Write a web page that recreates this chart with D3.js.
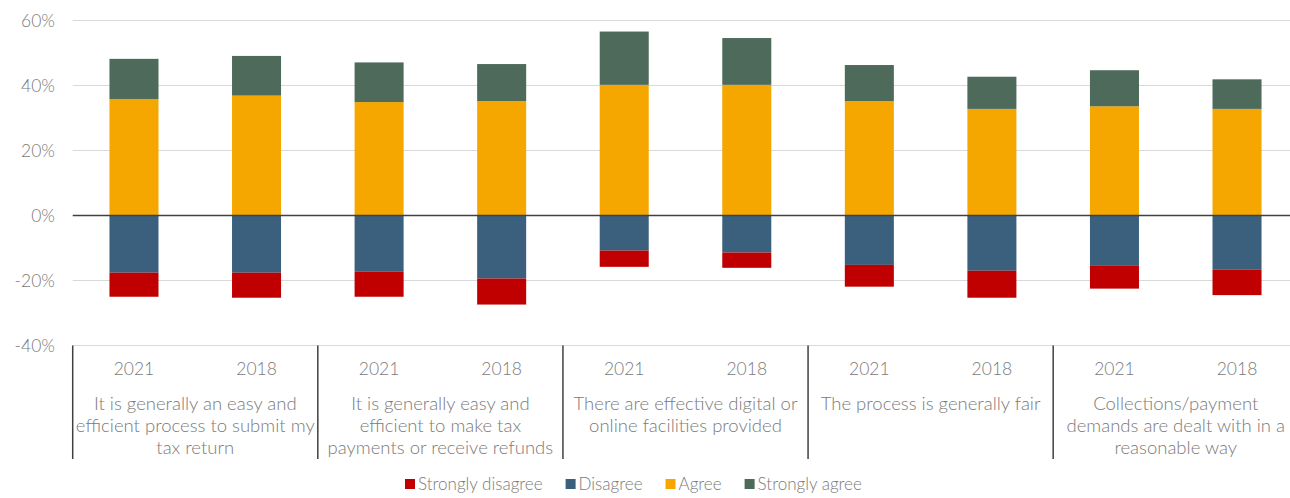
<!DOCTYPE html>
<html>
<head>
<meta charset="utf-8">
<script src="https://cdn.jsdelivr.net/npm/d3@7"></script>
<style>
  html, body { margin: 0; padding: 0; background: #ffffff; }
  svg { display: block; }
  text { font-family: "Lato", "Liberation Sans", sans-serif; font-weight: 300; fill: #7a7a7a; }
</style>
</head>
<body>
<svg id="chart" width="1290" height="498"></svg>
<script>
// ---- data ----
const years = ["2021", "2018", "2021", "2018", "2021", "2018", "2021", "2018", "2021", "2018"];
const categoryLines = [
  ["It is generally an easy and", "efficient process to submit my", "tax return"],
  ["It is generally easy and", "efficient to make tax", "payments or receive refunds"],
  ["There are effective digital or", "online facilities provided"],
  ["The process is generally fair"],
  ["Collections/payment", "demands are dealt with in a", "reasonable way"]
];
const stronglyDisagree = [-7.4, -7.7, -7.8, -8.0, -5.0, -4.7, -6.7, -8.3, -7.0, -7.8];
const disagree         = [-17.6, -17.6, -17.2, -19.4, -10.8, -11.4, -15.2, -17.0, -15.5, -16.7];
const agree            = [35.8, 36.9, 34.9, 35.2, 40.2, 40.2, 35.2, 32.8, 33.6, 32.8];
const stronglyAgree    = [12.4, 12.2, 12.2, 11.4, 16.4, 14.4, 11.1, 9.9, 11.1, 9.1];
const seriesNames = ["Strongly disagree", "Disagree", "Agree", "Strongly agree"];
const seriesColors = ["#C00000", "#3B607E", "#F5A700", "#4D6A5B"];
const yTicks = [-40, -20, 0, 20, 40, 60];

// ---- build table ----
const rows = years.map((yr, i) => ({
  idx: i,
  "Strongly disagree": stronglyDisagree[i],
  "Disagree": disagree[i],
  "Agree": agree[i],
  "Strongly agree": stronglyAgree[i]
}));
const stackOrder = ["Disagree", "Strongly disagree", "Agree", "Strongly agree"];
const stacked = d3.stack().keys(stackOrder).offset(d3.stackOffsetDiverging)(rows);
const color = d3.scaleOrdinal().domain(seriesNames).range(seriesColors);

const svg = d3.select("#chart");
const plotLeft = 72.7, plotRight = 1298.3, plotTop = 20.5, plotBottom = 345.5;

const x = d3.scaleBand().domain(rows.map(r => r.idx)).range([plotLeft, plotRight])
  .paddingInner(0.6).paddingOuter(0.3);
const y = d3.scaleLinear().domain([-40, 60]).range([plotBottom, plotTop]);
const step = x.step();

// gridlines
svg.append("g").selectAll("line").data(yTicks.filter(t => t !== 0)).join("line")
  .attr("x1", plotLeft).attr("x2", 1290)
  .attr("y1", d => y(d)).attr("y2", d => y(d))
  .attr("stroke", "#d9d9d9").attr("stroke-width", 1.2);

// y labels
const yAxis = d3.axisLeft(y).tickValues(yTicks).tickFormat(d => d + "%").tickSize(0).tickPadding(0);
const yg = svg.append("g").attr("transform", `translate(55,0)`).call(yAxis);
yg.select(".domain").remove();
yg.selectAll("text").attr("font-size", 17.5).attr("fill", "#7a7a7a")
  .style("font-family", "Lato, 'Liberation Sans', sans-serif").style("font-weight", 300);

// bars
svg.append("g").selectAll("g").data(stacked).join("g")
  .attr("fill", d => color(d.key))
  .selectAll("rect").data(d => d).join("rect")
  .attr("x", d => x(d.data.idx))
  .attr("width", x.bandwidth())
  .attr("y", d => y(Math.max(d[0], d[1])))
  .attr("height", d => Math.abs(y(d[0]) - y(d[1])));

// zero line
svg.append("line").attr("x1", plotLeft).attr("x2", 1290)
  .attr("y1", y(0)).attr("y2", y(0))
  .attr("stroke", "#404040").attr("stroke-width", 1.5);

// x axis: years
svg.append("g").selectAll("text").data(rows).join("text")
  .attr("x", d => x(d.idx) + x.bandwidth() / 2)
  .attr("y", 369).attr("dy", "0.35em")
  .attr("text-anchor", "middle").attr("font-size", 17.5)
  .text(d => years[d.idx]);

// group separators
const groupStarts = categoryLines.map((_, g) => x(g * 2) - (step - x.bandwidth()) / 2);
svg.append("g").selectAll("line").data(groupStarts).join("line")
  .attr("x1", d => d).attr("x2", d => d)
  .attr("y1", plotBottom).attr("y2", 459)
  .attr("stroke", "#404040").attr("stroke-width", 1.5);

// category labels
const catG = svg.append("g");
categoryLines.forEach((lines, g) => {
  const cx = groupStarts[g] + step;
  lines.forEach((ln, k) => {
    catG.append("text")
      .attr("x", cx).attr("y", 404 + k * 22).attr("dy", "0.35em")
      .attr("text-anchor", "middle").attr("font-size", 18.5)
      .text(ln);
  });
});

// legend
const leg = svg.append("g");
let lx = 405;
seriesNames.forEach((name, i) => {
  leg.append("rect").attr("x", lx).attr("y", 479).attr("width", 10).attr("height", 10)
    .attr("fill", seriesColors[i]);
  const t = leg.append("text").attr("x", lx + 13).attr("y", 484).attr("dy", "0.35em")
    .attr("font-size", 17).text(name);
  lx += 13 + t.node().getComputedTextLength() + 23;
});
</script>
</body>
</html>
